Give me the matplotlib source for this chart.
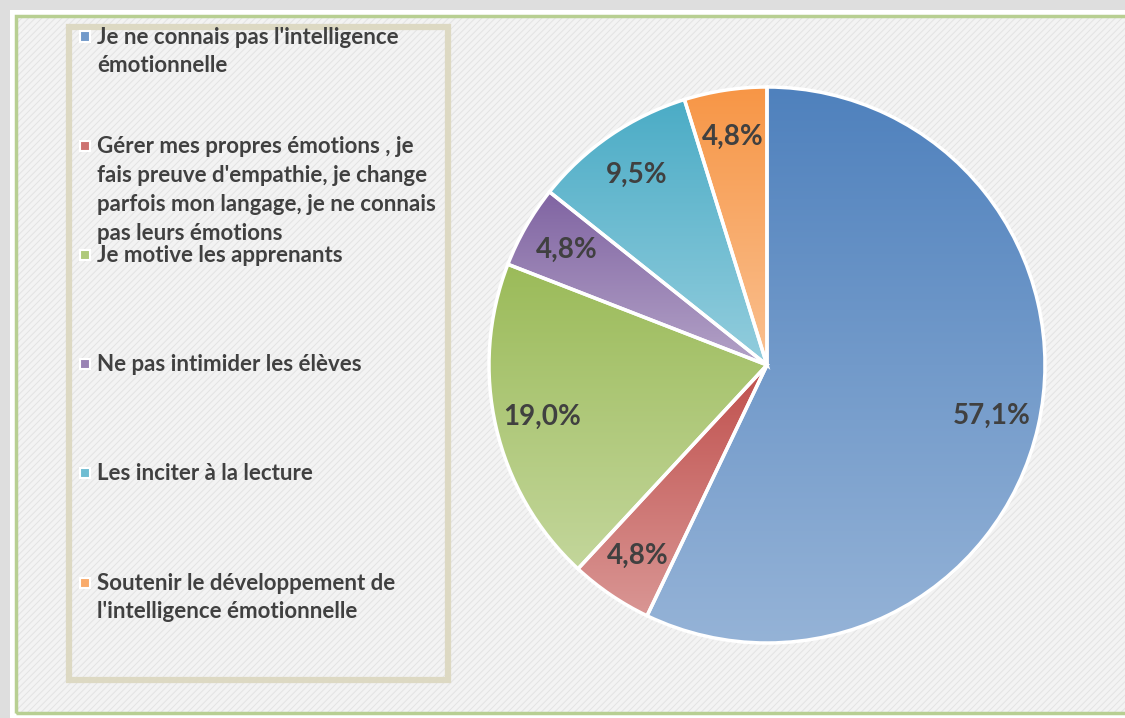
import numpy as np
import matplotlib
matplotlib.use("Agg")
import matplotlib.pyplot as plt
from matplotlib.patches import Rectangle
from matplotlib.colors import to_rgb

# ---- data ----
categories = [
    "Je ne connais pas l'intelligence\némotionnelle",
    "Gérer mes propres émotions , je\nfais preuve d'empathie, je change\nparfois mon langage, je ne connais\npas leurs émotions",
    "Je motive les apprenants",
    "Ne pas intimider les élèves",
    "Les inciter à la lecture",
    "Soutenir le développement de\nl'intelligence émotionnelle",
]
values = [57.1, 4.8, 19.0, 4.8, 9.5, 4.8]
dark_colors = ["#4F81BD", "#C0504D", "#9BBB59", "#8064A2", "#4BACC6", "#F79646"]
light_colors = ["#95B3D7", "#D99694", "#C3D69B", "#B3A2C7", "#93CDDD", "#FAC090"]

W, H = 1125, 718
plt.rcParams['hatch.linewidth'] = 0.7
fig = plt.figure(figsize=(W / 100, H / 100), dpi=100, facecolor="#DEDEDE")


def fx(x):
    return x / W


def fy(y):
    return 1 - y / H


def rect_px(x0, y0, x1, y1, **kw):
    r = Rectangle((fx(x0), fy(y1)), (x1 - x0) / W, (y1 - y0) / H,
                  transform=fig.transFigure, **kw)
    fig.patches.append(r)
    return r


# frame / background
rect_px(10, 10, 1140, 718, facecolor="white", edgecolor="none", zorder=-5)
rect_px(16, 16, 1140, 713, facecolor="#F3F3F3", edgecolor="none", zorder=-4)
rect_px(16, 16, 1140, 713, facecolor="none", edgecolor="#E3E3E3", hatch="/////",
        linewidth=0, zorder=-3)
rect_px(16, 16, 1140, 713, facecolor="none", edgecolor="#B8CF92", linewidth=2.5,
        zorder=-2)
# legend box
rect_px(69, 27, 448, 680, facecolor="none", edgecolor="#DDD9C3", linewidth=4.5,
        zorder=-1)

# ---- pie ----
cx, cy, R = 767, 365, 278
ax = fig.add_axes([fx(cx - R), fy(cy + R), 2 * R / W, 2 * R / H])
ax.set_facecolor("none")
ax.set_zorder(2)


def fmt(p):
    return f"{p:.1f}%".replace(".", ",")


wedges, texts, autotexts = ax.pie(
    values, startangle=90, counterclock=False, radius=1,
    autopct=fmt, pctdistance=0.83,
    wedgeprops=dict(edgecolor="white", linewidth=2.5),
    textprops=dict(fontfamily="Lato", fontweight="bold", fontsize=20, color="#404040"),
)

N = 256
for w, dc, lc in zip(wedges, dark_colors, light_colors):
    ext = w.get_path().get_extents()
    c0 = np.array(to_rgb(dc))
    c1 = np.array(to_rgb(lc))
    t = np.linspace(0, 1, N)[:, None, None]
    grad = c0[None, None, :] * (1 - t) + c1[None, None, :] * t
    im = ax.imshow(grad, extent=[ext.x0, ext.x1, ext.y0, ext.y1], aspect="auto",
                   interpolation="bilinear", zorder=1)
    im.set_clip_path(w)
    w.set_facecolor("none")
    w.set_zorder(2)
    w.set_clip_on(False)

for t_ in autotexts:
    t_.set_zorder(5)

ax.set_xlim(-1, 1)
ax.set_ylim(-1, 1)
ax.set_aspect("equal")
ax.axis("off")

# ---- legend ----
y0, dy, lh = 37, 109.2, 29
for i, (lab, dc, lc) in enumerate(zip(categories, dark_colors, light_colors)):
    yc = y0 + i * dy
    mc = tuple((np.array(to_rgb(dc)) + np.array(to_rgb(lc))) / 2)
    rect_px(80, yc - 5.5, 90, yc + 4.5, facecolor=mc, edgecolor="white",
            linewidth=1.5, zorder=3)
    for j, line in enumerate(lab.split("\n")):
        fig.text(fx(97), fy(yc + j * lh), line, fontfamily="Lato", fontweight="bold",
                 fontsize=16, color="#404040", va="center", ha="left")

fig.savefig("out.png", dpi=100, facecolor=fig.get_facecolor())
